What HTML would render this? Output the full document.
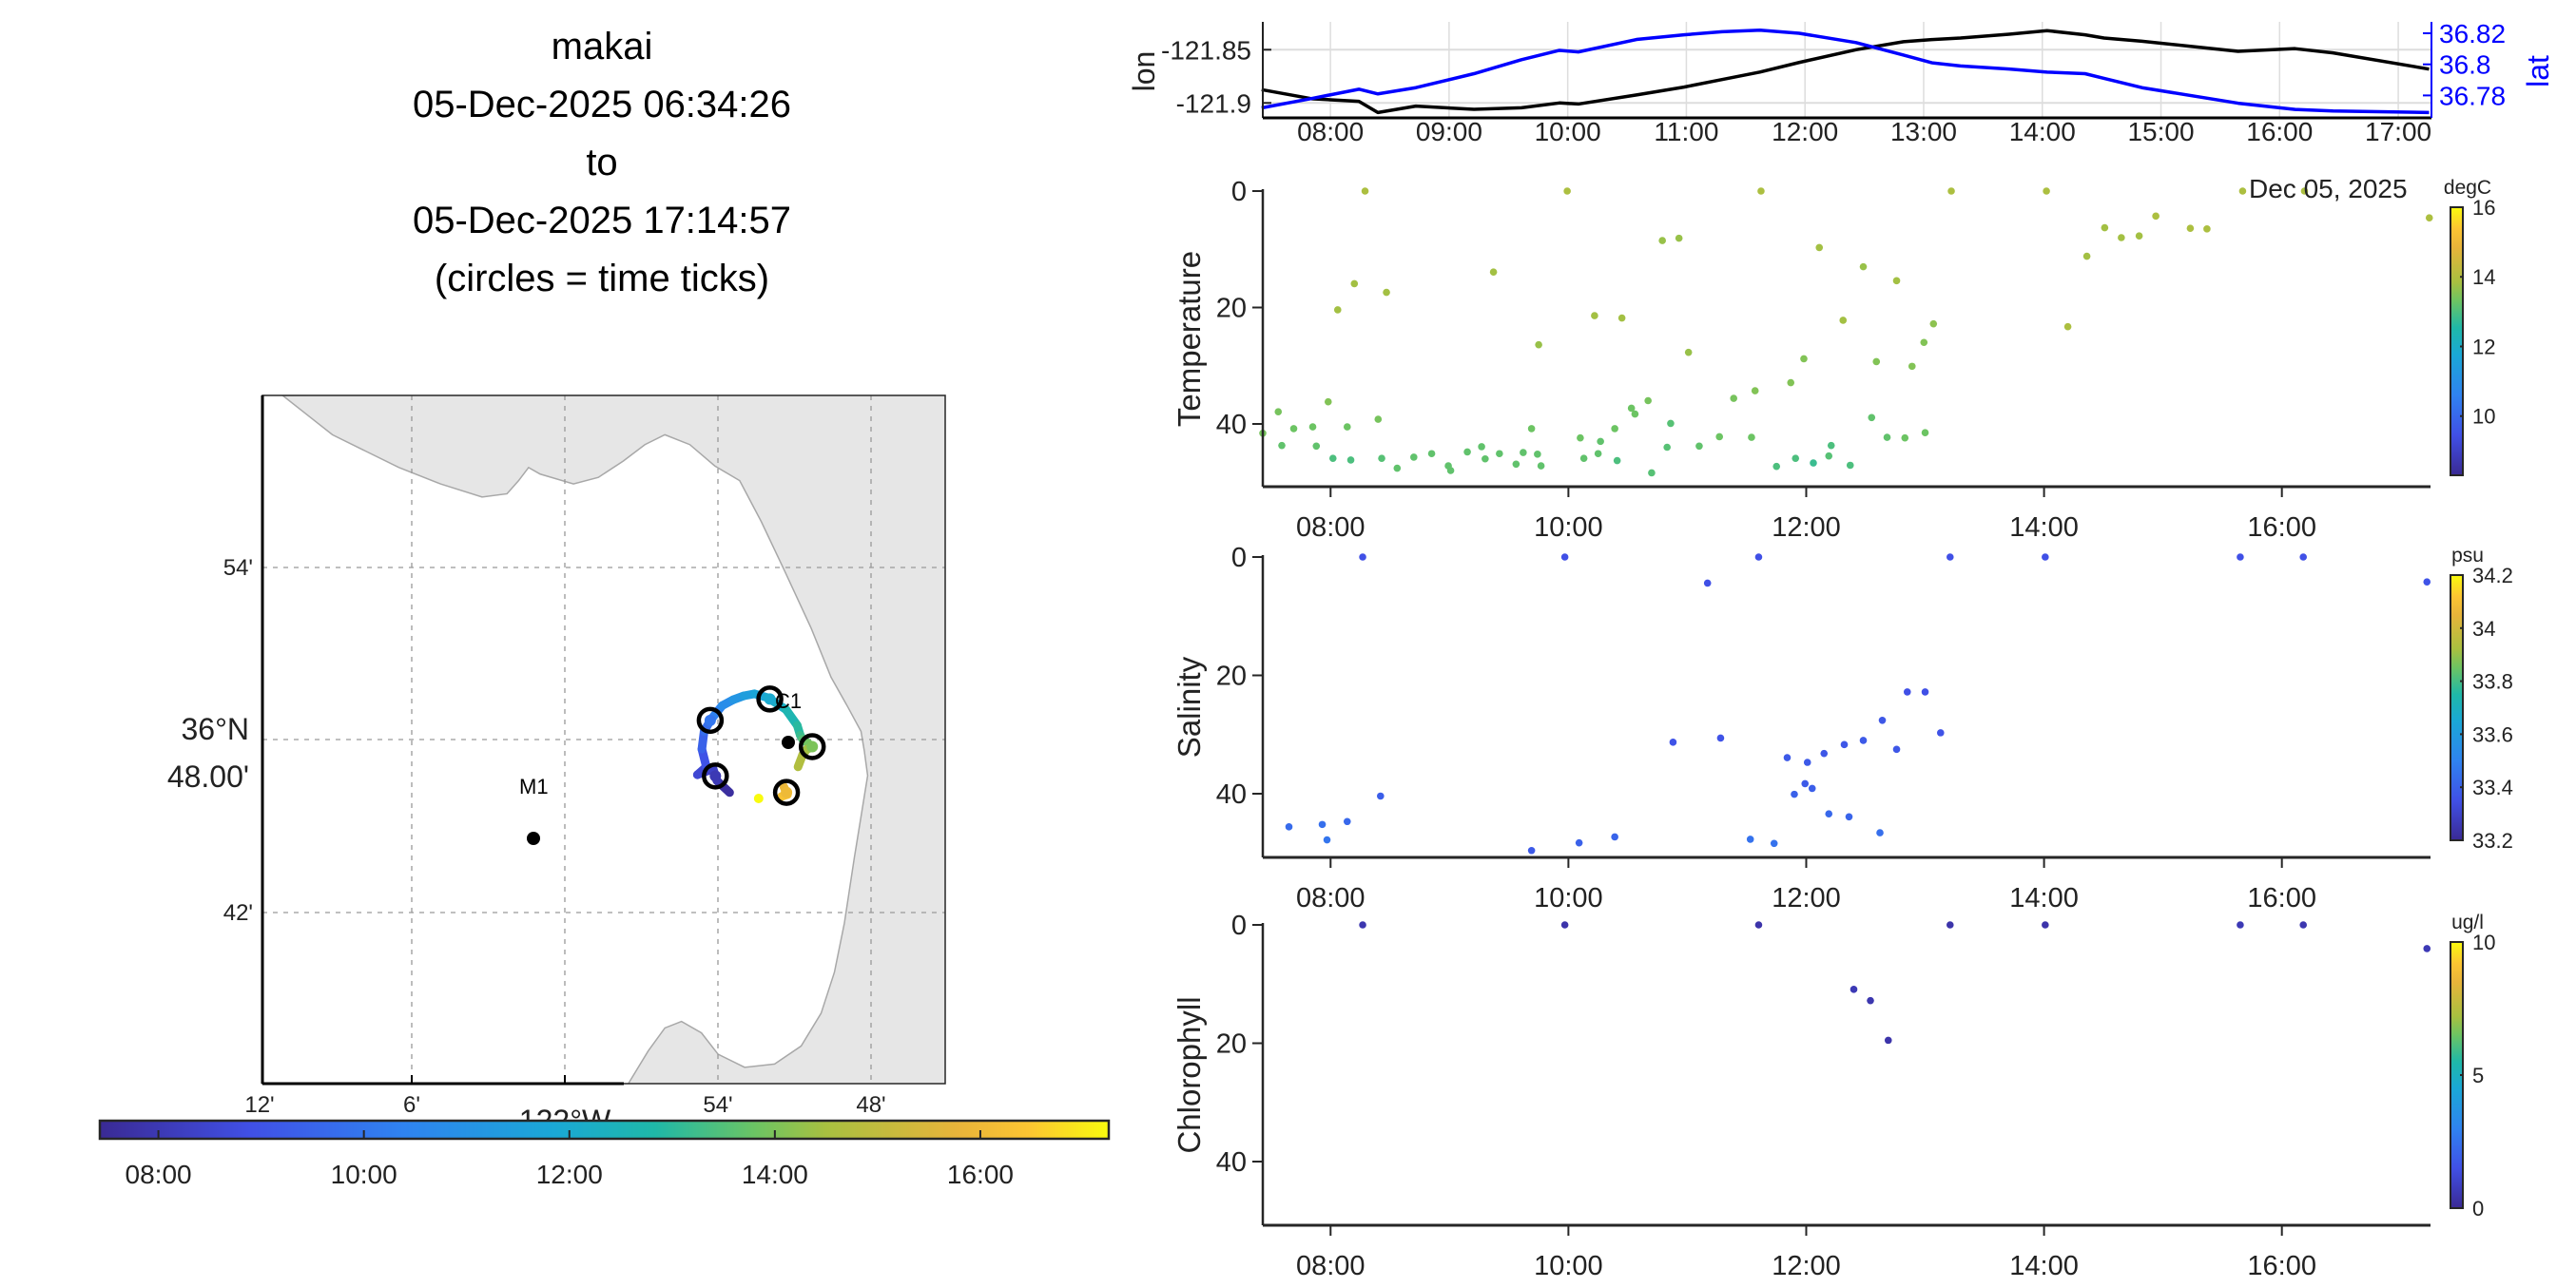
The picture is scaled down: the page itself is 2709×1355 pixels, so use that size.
<!DOCTYPE html>
<html><head><meta charset="utf-8">
<style>
html,body{margin:0;padding:0;background:#fff;}
svg{display:block;font-family:"Liberation Sans","DejaVu Sans",sans-serif;}
</style></head>
<body>
<svg id="fig" width="2709" height="1355" viewBox="0 0 2709 1355" xmlns="http://www.w3.org/2000/svg">
<g font-size="40" text-anchor="middle" fill="#000">
<text x="633" y="62">makai</text>
<text x="633" y="123">05-Dec-2025 06:34:26</text>
<text x="633" y="184">to</text>
<text x="633" y="245">05-Dec-2025 17:14:57</text>
<text x="633" y="306">(circles = time ticks)</text>
</g>
<g id="map"></g>
<g id="tcb"></g>
<g id="top"></g>
<g id="p1"></g>
<g id="p2"></g>
<g id="p3"></g>
</svg>
<script>
// ---- navigation data (time in hours, lon, lat) ----
const navTime=[7.42,7.84,8.24,8.40,8.72,9.21,9.61,9.93,10.09,10.58,10.98,11.30,11.62,11.95,12.43,12.83,13.07,13.31,13.72,14.04,14.36,14.52,14.84,15.65,16.13,16.45,17.26];
const navLon=[-121.8875,-121.896,-121.8985,-121.909,-121.903,-121.906,-121.9045,-121.900,-121.901,-121.8925,-121.8851,-121.878,-121.871,-121.862,-121.850,-121.8425,-121.8405,-121.839,-121.8354,-121.8321,-121.836,-121.839,-121.842,-121.8515,-121.849,-121.853,-121.8682];
const navLat=[36.772,36.778,36.784,36.781,36.785,36.794,36.803,36.809,36.808,36.816,36.819,36.821,36.822,36.820,36.814,36.806,36.801,36.799,36.797,36.795,36.794,36.791,36.785,36.775,36.771,36.770,36.769];
const timeTickHours=[8,10,12,14,16];
const timeTickLabels=["08:00","10:00","12:00","14:00","16:00"];
const hourTicks=[8,9,10,11,12,13,14,15,16,17];
const hourLabels=["08:00","09:00","10:00","11:00","12:00","13:00","14:00","15:00","16:00","17:00"];
const lonTicks=[-121.85,-121.9];
const lonTickLabels=["-121.85","-121.9"];
const latTicks=[36.82,36.8,36.78];
const latTickLabels=["36.82","36.8","36.78"];
const depthTicks=[0,20,40];
const depthTickLabels=["0","20","40"];
// ---- temperature samples ----
const tempTime=[8.29,9.99,11.62,13.22,14.02,15.67,16.19,17.24,14.94,14.51,15.23,15.37,14.65,14.80,14.36,10.79,10.93,12.11,12.48,12.76,9.37,8.20,8.47,8.06,10.22,10.45,12.31,13.07,14.20,12.99,9.75,11.01,12.59,11.98,12.89,11.87,11.57,11.39,10.67,7.98,10.53,7.56,10.56,8.40,12.55,10.86,7.69,7.85,8.14,9.69,10.39,7.43,13.00,10.10,11.27,11.54,12.68,12.83,10.27,7.59,7.88,11.10,10.83,12.21,9.27,9.15,8.85,9.62,9.74,9.42,10.25,12.19,8.70,8.02,8.43,9.30,10.13,11.91,8.17,10.41,12.06,9.56,8.99,9.77,11.75,12.37,8.56,9.01,10.70];
const tempDepth=[0,0,0,0,0,0,0,4.6,4.3,6.3,6.4,6.5,8.0,7.7,11.2,8.5,8.1,9.7,13.0,15.4,13.9,15.9,17.4,20.4,21.4,21.8,22.2,22.8,23.3,26.0,26.4,27.7,29.3,28.8,30.1,32.9,34.3,35.6,36.0,36.2,37.3,37.9,38.3,39.2,38.9,39.9,40.8,40.5,40.5,40.8,40.8,41.6,41.5,42.4,42.2,42.3,42.3,42.4,43.0,43.7,43.8,43.8,44.0,43.7,43.9,44.8,45.1,44.9,45.2,45.1,45.1,45.5,45.7,45.9,45.9,46.0,45.9,45.9,46.2,46.3,46.7,46.9,47.2,47.2,47.3,47.1,47.6,48.0,48.4];
const tempValue=[13.9,13.9,13.9,13.9,13.9,13.9,13.9,13.9,13.9,13.8,13.9,13.9,13.8,13.8,13.8,13.7,13.7,13.8,13.7,13.8,13.8,13.8,13.8,13.8,13.8,13.8,13.8,13.6,13.9,13.5,13.7,13.7,13.5,13.5,13.5,13.5,13.5,13.4,13.4,13.5,13.3,13.4,13.3,13.4,13.2,13.1,13.3,13.3,13.3,13.3,13.3,13.4,13.3,13.3,13.3,13.3,13.2,13.3,13.2,13.2,13.2,13.2,13.1,13.0,13.2,13.2,13.2,13.2,13.2,13.2,13.2,13.1,13.2,13.0,13.1,13.2,13.2,13.0,13.0,13.0,12.8,13.2,13.2,13.2,13.0,13.0,13.2,13.2,13.1];
// ---- salinity samples ----
const salTime=[8.27,9.97,11.60,13.21,14.01,15.65,16.18,17.22,11.17,13.0,12.85,13.13,12.64,12.48,12.76,12.32,12.01,12.15,11.84,10.88,11.28,11.99,12.05,11.90,12.19,12.36,12.62,11.53,11.73,9.69,10.09,10.39,8.42,8.14,7.93,7.65,7.97];
const salDepth=[0,0,0,0,0,0,0,4.2,4.4,22.8,22.8,29.7,27.6,31.0,32.5,31.7,34.7,33.2,33.9,31.3,30.6,38.3,39.1,40.1,43.4,43.9,46.6,47.7,48.4,49.6,48.3,47.3,40.4,44.7,45.2,45.6,47.8];
const salValue=[33.35,33.35,33.35,33.35,33.35,33.35,33.35,33.36,33.35,33.35,33.35,33.36,33.37,33.38,33.37,33.37,33.38,33.37,33.38,33.36,33.36,33.38,33.39,33.4,33.42,33.41,33.44,33.45,33.45,33.38,33.4,33.41,33.39,33.42,33.44,33.43,33.46];
// ---- chlorophyll samples ----
const chlTime=[8.27,9.97,11.60,13.21,14.01,15.65,16.18,17.22,12.40,12.54,12.69];
const chlDepth=[0,0,0,0,0,0,0,4.0,10.9,12.8,19.5];
const chlValue=[0.5,0.4,0.4,0.4,0.4,0.6,0.5,0.6,0.6,0.5,0.4];

const NS='http://www.w3.org/2000/svg';
function mk(parent,tag,attrs,text){const e=document.createElementNS(NS,tag);for(const k in attrs)e.setAttribute(k,attrs[k]);if(text!==undefined)e.textContent=text;parent.appendChild(e);return e;}
const stops=[[0,[58,42,148]],[0.15,[64,80,230]],[0.3,[47,131,240]],[0.45,[26,168,214]],[0.55,[31,184,168]],[0.65,[108,196,99]],[0.72,[168,192,64]],[0.85,[232,180,58]],[0.92,[252,197,50]],[1,[249,251,14]]];
function cmap(f){f=Math.max(0,Math.min(1,f));for(let i=1;i<stops.length;i++){if(f<=stops[i][0]){const a=stops[i-1],b=stops[i];const u=(f-a[0])/(b[0]-a[0]);const c=a[1].map((v,j)=>Math.round(v+(b[1][j]-v)*u));return `rgb(${c[0]},${c[1]},${c[2]})`;}}return 'rgb(249,251,14)';}
function gradStops(grad){for(const s of stops){mk(grad,'stop',{offset:s[0],'stop-color':`rgb(${s[1].join(',')})`});}}
const defs=mk(document.getElementById('fig'),'defs',{});

// ---------- time colorbar ----------
const T0=7.43,T1=17.25;
(function(){
 const g=document.getElementById('tcb');
 const gr=mk(defs,'linearGradient',{id:'gh',x1:0,y1:0,x2:1,y2:0});gradStops(gr);
 const L=105,R=1166;const tx=t=>L+(t-T0)/(T1-T0)*(R-L);
 const bar=mk(g,'rect',{x:L,y:1179,width:R-L,height:19,fill:'url(#gh)',stroke:'#262626','stroke-width':2.5});
 
 timeTickHours.forEach((h,i)=>{mk(g,'line',{x1:tx(h),x2:tx(h),y1:1189,y2:1198,stroke:'#262626','stroke-width':2});
  const t=mk(g,'text',{x:tx(h),y:1245,'font-size':28,'text-anchor':'middle',fill:'#222'},timeTickLabels[i]);
  });
})();

// ---------- map ----------
(function(){
 const g=document.getElementById('map');
 const L=276,R=994,Tp=416,B=1140;
 const X=lon=>746+(lon+121.901)*1580, Y=lat=>759-(lat-36.808)*2077;
 const cp=mk(defs,'clipPath',{id:'mapclip'});mk(cp,'rect',{x:L,y:Tp,width:R-L,height:B-Tp});
 const ci=mk(g,'g',{'clip-path':'url(#mapclip)'});
 const coast=[[170,238],[185,250],[200,262],[220,272],[240,282],[265,292],[290,300],[305,298],[312,290],[318,282],[325,286],[345,292],[360,288],[375,278],[388,268],[400,262],[415,268],[430,281],[445,290],[458,315],[472,345],[488,380],[500,410],[510,428],[518,443],[520,455],[522,470],[518,495],[514,520],[508,560],[502,590],[494,615],[482,635],[466,646],[448,648],[432,640],[422,627],[410,620],[400,624],[390,638],[378,658]];
 const sx=x=>x*1.748, sy=y=>416+(y-238)*1.724;
 let d='M'+coast.map(p=>sx(p[0])+','+sy(p[1])).join(' L')+` L1000,1145 L1000,410 Z`;
 const land=mk(ci,'path',{d:d,fill:'#e6e6e6',stroke:'#a8a8a8','stroke-width':1.5});
 
 [433,594,755,916].forEach(x=>mk(ci,'line',{x1:x,x2:x,y1:Tp,y2:B,stroke:'#999','stroke-width':1.3,'stroke-dasharray':'5,6'}));
 [597,778,960].forEach(y=>mk(ci,'line',{x1:L,x2:R,y1:y,y2:y,stroke:'#999','stroke-width':1.3,'stroke-dasharray':'5,6'}));
 for(let i=0;i<navTime.length-1;i++){
  if(navTime[i+1]-navTime[i]>0.7)continue;
  const col=cmap(((navTime[i]+navTime[i+1])/2-T0)/(T1-T0));
  const s=mk(ci,'line',{x1:X(navLon[i]),y1:Y(navLat[i]),x2:X(navLon[i+1]),y2:Y(navLat[i+1]),stroke:col,'stroke-width':9,'stroke-linecap':'round'});
  
 }
 const last=navTime.length-1;
 const ld=mk(ci,'circle',{cx:X(navLon[last]),cy:Y(navLat[last]),r:5,fill:cmap((navTime[last]-T0)/(T1-T0))});
 
 function interp(arr,t){for(let i=0;i<navTime.length-1;i++){if(t>=navTime[i]&&t<=navTime[i+1]){const u=(t-navTime[i])/(navTime[i+1]-navTime[i]);return arr[i]+(arr[i+1]-arr[i])*u;}}return arr[arr.length-1];}
 timeTickHours.forEach(h=>{const cx=X(interp(navLon,h)),cy=Y(interp(navLat,h));
  mk(ci,'circle',{cx:cx,cy:cy,r:6,fill:cmap((h-T0)/(T1-T0))});
  const c=mk(ci,'circle',{cx:cx,cy:cy,r:12,fill:'none',stroke:'#000','stroke-width':4.5});
  });
 const c1=mk(ci,'circle',{cx:829,cy:781,r:7,fill:'#000'});
 const c1t=mk(ci,'text',{x:815,y:745,'font-size':22,fill:'#000'},'C1');
 const m1=mk(ci,'circle',{cx:561,cy:882,r:7,fill:'#000'});
 const m1t=mk(ci,'text',{x:546,y:835,'font-size':22,fill:'#000'},'M1');
 mk(g,'rect',{x:L,y:Tp,width:R-L,height:B-Tp,fill:'none',stroke:'#262626','stroke-width':1.5});
 mk(g,'line',{x1:L,x2:L,y1:Tp,y2:B,stroke:'#000','stroke-width':3});
 mk(g,'line',{x1:L,x2:656,y1:B,y2:B,stroke:'#000','stroke-width':3});
 [433,594].forEach(x=>mk(g,'line',{x1:x,x2:x,y1:B-9,y2:B,stroke:'#000','stroke-width':2}));
 const xl=[[273,"12'"],[433,"6'"],[755,"54'"],[916,"48'"]];
 xl.forEach(p=>{const t=mk(g,'text',{x:p[0],y:1170,'font-size':24,'text-anchor':'middle',fill:'#222'},p[1]);});
 const wl=mk(g,'text',{x:594,y:1190,'font-size':32,'text-anchor':'middle',fill:'#222'},'122°W');
 [[597,"54'"],[960,"42'"]].forEach(p=>{const t=mk(g,'text',{x:266,y:p[0]+8,'font-size':24,'text-anchor':'end',fill:'#222'},p[1]);});
 const n1=mk(g,'text',{x:262,y:778,'font-size':32,'text-anchor':'end',fill:'#222'},'36°N');
 const n2=mk(g,'text',{x:262,y:828,'font-size':32,'text-anchor':'end',fill:'#222'},"48.00'");
})();
// redraw colorbar over map label overlap order
document.getElementById('fig').appendChild(document.getElementById('tcb'));

// ---------- lon/lat plot ----------
(function(){
 const g=document.getElementById('top');
 const L=1328,R=2557,Tp=23,B=124;
 const tx=t=>L+(t-T0)/(17.28-T0)*(R-L);
 const yLon=v=>52.3+(-121.85-v)/0.05*56;
 const yLat=v=>67.7-(v-36.8)/0.02*32.7;
 hourTicks.forEach((h,i)=>{mk(g,'line',{x1:tx(h),x2:tx(h),y1:Tp,y2:B,stroke:'#ddd','stroke-width':1.5});
  const t=mk(g,'text',{x:tx(h),y:148,'font-size':28,'text-anchor':'middle',fill:'#222'},hourLabels[i]);});
 lonTicks.forEach((v,i)=>{mk(g,'line',{x1:L,x2:R,y1:yLon(v),y2:yLon(v),stroke:'#ddd','stroke-width':2});
  mk(g,'line',{x1:L,x2:L+9,y1:yLon(v),y2:yLon(v),stroke:'#222','stroke-width':2});
  const t=mk(g,'text',{x:L-12,y:yLon(v)+10,'font-size':28,'text-anchor':'end',fill:'#222'},lonTickLabels[i]);});
 latTicks.forEach((v,i)=>{mk(g,'line',{x1:R,x2:R-9,y1:yLat(v),y2:yLat(v),stroke:'#0000ff','stroke-width':2});
  const t=mk(g,'text',{x:R+8,y:yLat(v)+10,'font-size':28,fill:'#0000ff'},latTickLabels[i]);});
 const lonLine=mk(g,'polyline',{points:navTime.map((t,i)=>tx(t)+','+yLon(navLon[i])).join(' '),fill:'none',stroke:'#000','stroke-width':3.5,'stroke-linejoin':'round'});
 
 const latLine=mk(g,'polyline',{points:navTime.map((t,i)=>tx(t)+','+yLat(navLat[i])).join(' '),fill:'none',stroke:'#0000ff','stroke-width':3.5,'stroke-linejoin':'round'});
 
 mk(g,'line',{x1:L,x2:L,y1:Tp,y2:B,stroke:'#222','stroke-width':2});
 mk(g,'line',{x1:L,x2:R,y1:B,y2:B,stroke:'#000','stroke-width':3});
 mk(g,'line',{x1:R,x2:R,y1:Tp,y2:B,stroke:'#0000ff','stroke-width':2});
 const yl=mk(g,'text',{transform:'translate(1214,75) rotate(-90)','font-size':32,'text-anchor':'middle',fill:'#222'},'lon');
 const yr=mk(g,'text',{transform:'translate(2680,75) rotate(-90)','font-size':32,'text-anchor':'middle',fill:'#0000ff'},'lat');
})();

// ---------- depth plots ----------
function depthPlot(id,o){
 const g=document.getElementById(id);
 const L=1328,R=2556;
 const tx=t=>L+(t-T0)/(T1-T0)*(R-L);
 const ty=d=>o.y0+d/20*o.dy;
 o.time.forEach((t,i)=>{const c=mk(g,'circle',{cx:tx(t),cy:ty(o.depth[i]),r:3.8,fill:cmap((o.val[i]-o.vmin)/(o.vmax-o.vmin))});
  });
 mk(g,'line',{x1:L,x2:L,y1:o.y0-2,y2:o.bot,stroke:'#262626','stroke-width':2.5});
 mk(g,'line',{x1:L,x2:R,y1:o.bot,y2:o.bot,stroke:'#262626','stroke-width':3});
 depthTicks.forEach((d,i)=>{mk(g,'line',{x1:L-11,x2:L,y1:ty(d),y2:ty(d),stroke:'#262626','stroke-width':2});
  const t=mk(g,'text',{x:L-17,y:ty(d)+10,'font-size':29,'text-anchor':'end',fill:'#222'},depthTickLabels[i]);});
 timeTickHours.forEach((h,i)=>{mk(g,'line',{x1:tx(h),x2:tx(h),y1:o.bot,y2:o.bot+11,stroke:'#262626','stroke-width':2});
  const t=mk(g,'text',{x:tx(h),y:o.bot+52,'font-size':29,'text-anchor':'middle',fill:'#222'},timeTickLabels[i]);});
 const yt=mk(g,'text',{transform:`translate(1262,${(o.y0+o.bot)/2}) rotate(-90)`,'font-size':33,'text-anchor':'middle',fill:'#222'},o.title);
 
 const gid='gv'+id;const gr=mk(defs,'linearGradient',{id:gid,x1:0,y1:1,x2:0,y2:0});gradStops(gr);
 const cb=mk(g,'rect',{x:2577,y:o.cbTop,width:13,height:o.cbBot-o.cbTop,fill:`url(#${gid})`,stroke:'#262626','stroke-width':2});
 
 o.cbTicks.forEach((v,i)=>{const y=o.cbBot-(v-o.vmin)/(o.vmax-o.vmin)*(o.cbBot-o.cbTop);
  mk(g,'line',{x1:2587,x2:2590,y1:y,y2:y,stroke:'#262626','stroke-width':2});
  const t=mk(g,'text',{x:2600,y:y+8,'font-size':22,fill:'#222'},o.cbLabels[i]);});
 const u=mk(g,'text',{x:2595,y:o.cbTop-14,'font-size':21,'text-anchor':'middle',fill:'#222'},o.unit);
}
depthPlot('p1',{name:'temperature',title:'Temperature',time:tempTime,depth:tempDepth,val:tempValue,vmin:8.3,vmax:16,y0:201,dy:122.5,bot:512,cbTop:218,cbBot:500,cbTicks:[10,12,14,16],cbLabels:['10','12','14','16'],unit:'degC'});
depthPlot('p2',{name:'salinity',title:'Salinity',time:salTime,depth:salDepth,val:salValue,vmin:33.2,vmax:34.2,y0:586,dy:124.5,bot:902,cbTop:605,cbBot:884,cbTicks:[33.2,33.4,33.6,33.8,34,34.2],cbLabels:['33.2','33.4','33.6','33.8','34','34.2'],unit:'psu'});
depthPlot('p3',{name:'chlorophyll',title:'Chlorophyll',time:chlTime,depth:chlDepth,val:chlValue,vmin:0,vmax:10,y0:973,dy:124.5,bot:1289,cbTop:991,cbBot:1271,cbTicks:[0,5,10],cbLabels:['0','5','10'],unit:'ug/l'});
(function(){const dt=mk(document.getElementById('fig'),'text',{x:2365,y:208,'font-size':28,fill:'#222'},'Dec 05, 2025');

})();
</script>
</body></html>
